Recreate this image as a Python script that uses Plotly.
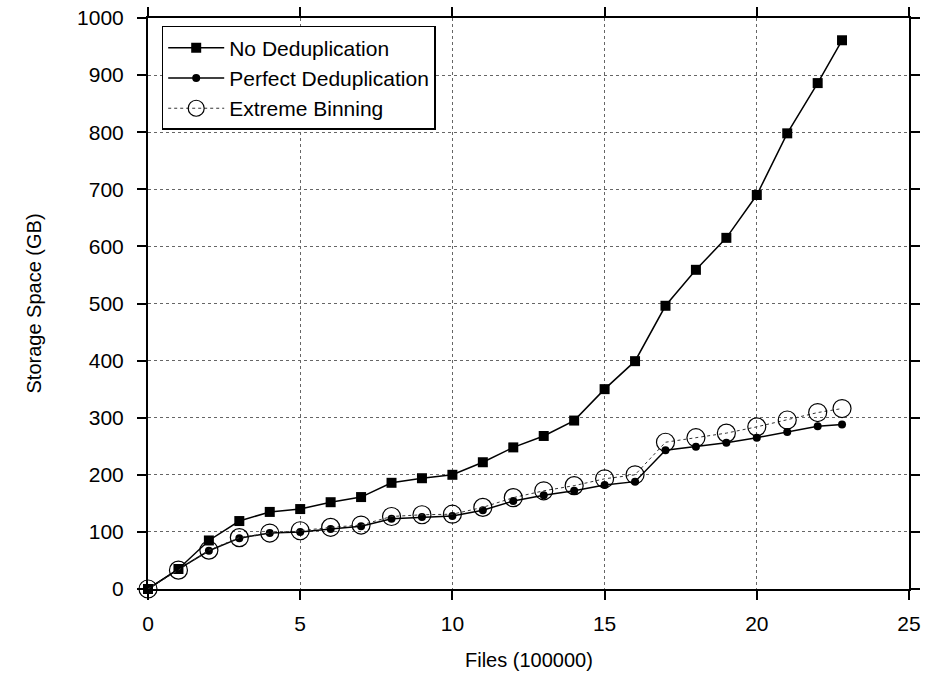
import plotly.graph_objects as go

files = [0, 1, 2, 3, 4, 5, 6, 7, 8, 9, 10, 11, 12, 13, 14, 15, 16, 17, 18, 19, 20, 21, 22, 22.8]
no_dedup = [0, 35, 85, 119, 135, 140, 152, 161, 186, 194, 200, 222, 248, 268, 295, 350, 399, 496, 559, 615, 690, 798, 886, 961]
perfect_dedup = [0, 35, 67, 89, 98, 100, 105, 110, 123, 126, 128, 138, 154, 164, 172, 182, 188, 243, 249, 256, 265, 275, 285, 288]
extreme_binning = [0, 33, 68, 90, 98, 102, 108, 112, 127, 130, 131, 143, 160, 172, 181, 193, 200, 257, 265, 273, 284, 296, 309, 316]

FONT = "Liberation Sans, Arial, sans-serif"

fig = go.Figure()
fig.add_trace(go.Scatter(
    x=files, y=no_dedup, name="No Deduplication", mode="lines+markers",
    line=dict(color="black", width=1.5),
    marker=dict(symbol="square", size=10, color="black"),
    cliponaxis=False))
fig.add_trace(go.Scatter(
    x=files, y=perfect_dedup, name="Perfect Deduplication", mode="lines+markers",
    line=dict(color="black", width=1.5),
    marker=dict(symbol="circle", size=8, color="black"),
    cliponaxis=False))
fig.add_trace(go.Scatter(
    x=files, y=extreme_binning, name="Extreme Binning", mode="lines+markers",
    line=dict(color="#333333", width=1, dash="dot"),
    marker=dict(symbol="circle-open", size=18, color="black", line=dict(width=1.2, color="black")),
    cliponaxis=False))

axis_common = dict(
    showline=True, linecolor="black", linewidth=2, mirror="ticks",
    ticks="outside", ticklen=9, tickwidth=2, tickcolor="black",
    showgrid=True, gridcolor="#666666", gridwidth=1, griddash="dot",
    zeroline=False, automargin=False,
    tickfont=dict(family=FONT, size=21, color="black"),
)

fig.update_xaxes(range=[0, 25], dtick=5, tick0=0, ticklabelstandoff=6, **axis_common)
fig.update_yaxes(range=[0, 1000], dtick=100, tick0=0, ticklabelstandoff=9, **axis_common)

fig.add_annotation(text="Files (100000)", xref="paper", yref="paper",
                   x=0.5, y=-(660 - 589) / 571, xanchor="center", yanchor="middle",
                   showarrow=False, font=dict(family=FONT, size=20, color="black"))
fig.add_annotation(text="Storage Space (GB)", xref="paper", yref="paper",
                   x=-(148 - 33) / 761, y=0.5, xanchor="center", yanchor="middle",
                   textangle=-90, showarrow=False,
                   font=dict(family=FONT, size=20, color="black"))

fig.update_layout(
    width=929, height=675,
    margin=dict(l=148, r=20, t=18, b=86),
    plot_bgcolor="white", paper_bgcolor="white",
    font=dict(family=FONT, size=21, color="black"),
    legend=dict(x=0.018, y=0.986, xanchor="left", yanchor="top",
                bgcolor="white", bordercolor="black", borderwidth=1.5,
                font=dict(family=FONT, size=21, color="black"),
                itemwidth=56, tracegroupgap=0),
    showlegend=True,
)

fig.write_html("out.html", config={"displayModeBar": False},
               post_script="document.body.style.margin='0';")
